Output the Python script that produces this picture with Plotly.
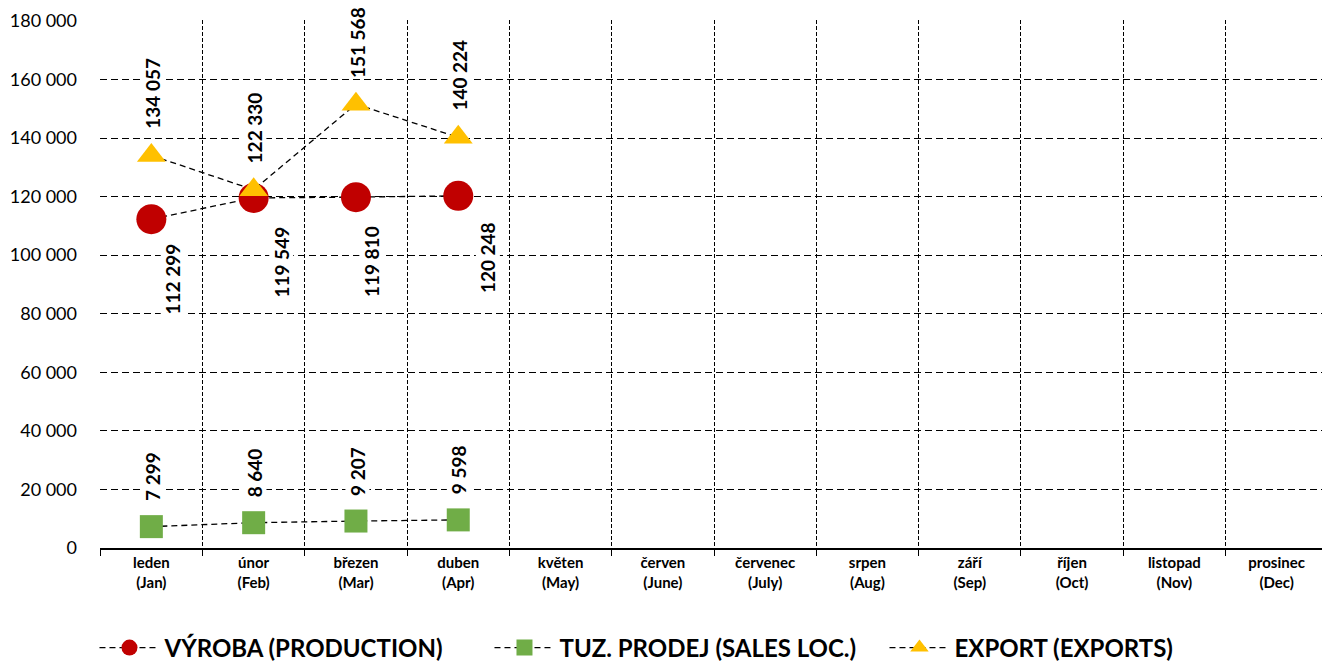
import plotly.graph_objects as go

months_cz = ["leden", "únor", "březen", "duben", "květen", "červen", "červenec",
             "srpen", "září", "říjen", "listopad", "prosinec"]
months_en = ["Jan", "Feb", "Mar", "Apr", "May", "June", "July", "Aug", "Sep", "Oct", "Nov", "Dec"]
production = [112299, 119549, 119810, 120248]
sales_loc = [7299, 8640, 9207, 9598]
exports = [134057, 122330, 151568, 140224]
y_ticks = [0, 20000, 40000, 60000, 80000, 100000, 120000, 140000, 160000, 180000]

FONT = "Lato"
xpos = [i + 0.5 for i in range(len(months_cz))]


def fmt(v):
    return f"{v:,}".replace(",", " ")


fig = go.Figure()
series = [
    ("VÝROBA (PRODUCTION)", production, "circle", "#C00000", 30),
    ("TUZ. PRODEJ (SALES LOC.)", sales_loc, "square", "#70AD47", 23),
    ("EXPORT (EXPORTS)", exports, "triangle-up", "#FFC000", 25),
]
for name, vals, sym, col, size in series:
    fig.add_trace(go.Scatter(
        x=xpos[:len(vals)], y=vals, name=name, mode="lines+markers",
        line=dict(color="black", width=1.3, dash="6px,4px"),
        marker=dict(symbol=sym, color=col, size=size, line=dict(width=0)),
    ))

annotations = []
prod_dx = [21, 28, 15, 30]
prod_dy = [60, 64, 64, 62]
for i, v in enumerate(production):
    annotations.append(dict(x=xpos[i], y=v, xref="x", yref="y", text=fmt(v),
                            showarrow=False, textangle=-90, xshift=prod_dx[i], yshift=-prod_dy[i]))
for i, v in enumerate(exports):
    annotations.append(dict(x=xpos[i], y=v, xref="x", yref="y", text=fmt(v),
                            showarrow=False, textangle=-90, xshift=1, yshift=62))
for i, v in enumerate(sales_loc):
    annotations.append(dict(x=xpos[i], y=v, xref="x", yref="y", text=fmt(v),
                            showarrow=False, textangle=-90, xshift=1, yshift=50))
for a in annotations:
    a.update(font=dict(family=FONT, size=19, color="black", weight="bold"),
             bgcolor="white", borderpad=0)

# page body has an 8px default margin; figure is sized to compensate
fig.update_layout(
    width=1322, height=656,
    margin=dict(l=92, r=2, t=12, b=116, autoexpand=False),
    paper_bgcolor="white", plot_bgcolor="white",
    font=dict(family=FONT, color="black"),
    separators=", ",
    showlegend=True,
    legend=dict(orientation="h", x=0.478, xanchor="center", yref="container", y=0.0244, yanchor="middle",
                font=dict(family=FONT, size=24, color="black", weight="bold"),
                itemwidth=60, entrywidth=320, traceorder="normal"),
    annotations=annotations,
    xaxis=dict(
        range=[-0.002, 12.002], tickmode="array", tickvals=xpos,
        ticktext=[f"{c}<br>({e})" for c, e in zip(months_cz, months_en)],
        tickfont=dict(family=FONT, size=15, color="black", weight="bold"),
        ticks="", showgrid=False, zeroline=False,
        showline=True, linecolor="black", linewidth=2,
        minor=dict(tickmode="array", tickvals=list(range(13)), ticks="outside", ticklen=6,
                   tickcolor="black", showgrid=True, gridcolor="black", griddash="4px,2px", gridwidth=1),
    ),
    yaxis=dict(
        range=[0, 180300], tickmode="array", tickvals=y_ticks, tickformat=",d",
        tickfont=dict(family=FONT, size=18, color="black"),
        showgrid=True, gridcolor="black", griddash="7px,4px", gridwidth=1,
        zeroline=False, showline=False, ticks="", ticklabelstandoff=22, automargin=False,
    ),
)

fig.write_html("out.html")
